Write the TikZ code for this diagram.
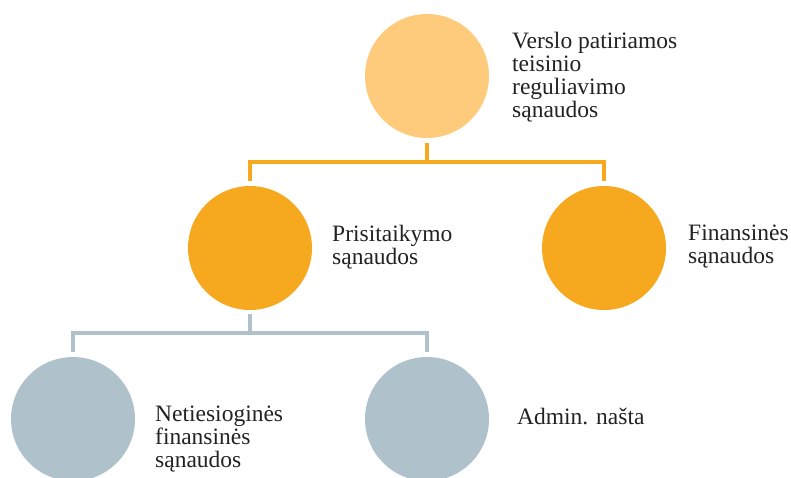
\documentclass[tikz,border=0pt]{standalone}
\usepackage{fontspec}
\setmainfont{Liberation Serif}
\definecolor{lightorange}{HTML}{FDCB7B}
\definecolor{midorange}{HTML}{F6A91F}
\definecolor{greyblue}{HTML}{AFC2CB}
\definecolor{textgrey}{HTML}{222222}
\tikzset{
  bubble/.style={circle, minimum size=124pt, inner sep=0pt},
  label text/.style={anchor=west, align=left, inner sep=0pt, text=textgrey,
    font=\fontsize{23.5}{23}\selectfont},
  costline/.style={line width=4pt},
}
\begin{document}
\begin{tikzpicture}[x=1pt, y=-1pt]
\useasboundingbox (0,0) rectangle (791,477);

% top level
\node (total) at (427,76) [bubble, fill=lightorange]{};
\node (total-txt) at (512,77) [label text]{Verslo patiriamos\\teisinio\\reguliavimo\\sąnaudos};

% middle level
\node (adapt) at (250,248) [bubble, fill=midorange]{};
\node (adapt-txt) at (332,247) [label text]{Prisitaikymo\\sąnaudos};

\node (fin) at (604,248) [bubble, fill=midorange]{};
\node (fin-txt) at (688,247) [label text]{Finansinės\\sąnaudos};

% bottom level
\node (indirect) at (73,419) [bubble, fill=greyblue]{};
\node (indirect-txt) at (155,439) [label text]{Netiesioginės\\finansinės\\sąnaudos};

\node (admin) at (427,419) [bubble, fill=greyblue]{};
\node (admin-txt) at (517,416) [label text]{Admin. našta};

\coordinate (split-top) at (427,162);
\coordinate (split-low) at (250,333);

\draw [costline, midorange, shorten <=5pt] (total) -- (split-top);
\draw [costline, midorange, shorten >=5pt] (split-top) -| (adapt);
\draw [costline, midorange, shorten >=5pt] (split-top) -| (fin);

\draw [costline, greyblue, shorten <=4pt] (adapt) -- (split-low);
\draw [costline, greyblue, shorten >=5pt] (split-low) -| (indirect);
\draw [costline, greyblue, shorten >=5pt] (split-low) -| (admin);

\end{tikzpicture}
\end{document}
